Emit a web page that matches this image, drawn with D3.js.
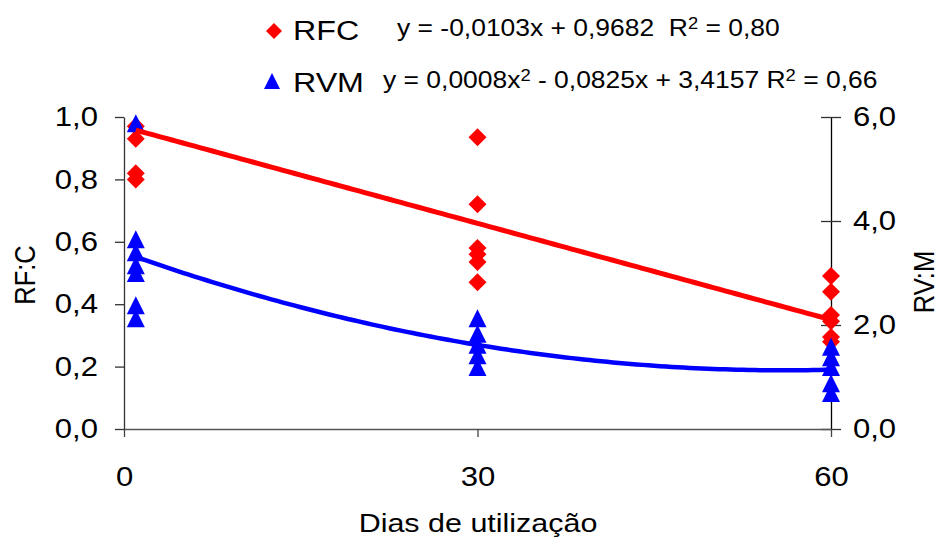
<!DOCTYPE html>
<html>
<head>
<meta charset="utf-8">
<script src="https://cdn.jsdelivr.net/npm/d3@7"></script>
<style>
body { margin: 0; background: #fff; }
svg { display: block; font-family: 'Liberation Sans', Arial, sans-serif; }
</style>
</head>
<body>
<div id="chart"></div>
<script>
// eixo x
var diasTicks = [0, 30, 60]
var rfTicks = [0, 0.2, 0.4, 0.6, 0.8, 1.0]
var rvTicks = [0, 2, 4, 6]

// RF:C (eixo esquerdo)
var rfcDias = [1, 1, 1, 1, 30, 30, 30, 30, 30, 30, 60, 60, 60, 60, 60, 60]
var rfcValores = [0.97, 0.93, 0.82, 0.80, 0.935, 0.72, 0.58, 0.56, 0.535, 0.47, 0.49, 0.44, 0.365, 0.345, 0.295, 0.28]

// RV:M (eixo direito)
var rvmDias = [1, 1, 1, 1, 1, 1, 1, 30, 30, 30, 30, 30, 60, 60, 60, 60, 60]
var rvmValores = [5.88, 3.65, 3.40, 3.15, 3.0, 2.38, 2.13, 2.13, 1.83, 1.62, 1.42, 1.19, 1.58, 1.38, 1.19, 0.88, 0.69]

var rfcTendencia = [0.9682, -0.0103]
var rvmTendencia = [3.39, -0.0807, 0.00072]

var width = 940,
    height = 541,
    sx = 1.15   // o grafico original esta esticado na horizontal

var x = d3.scaleLinear().domain([0, 60]).range([124, 831]),
    yL = d3.scaleLinear().domain([0, 1]).range([429, 117]),
    yR = d3.scaleLinear().domain([0, 6]).range([429, 117])

var br = d3.formatLocale({decimal: ',', thousands: '.', grouping: [3], currency: ['', '']}),
    fmt = br.format('.1f')

var svg = d3.select('#chart').append('svg')
    .attr('width', width)
    .attr('height', height)

// marcadores
var diamond = 'M0,-9L9,0L0,9L-9,0Z',
    triangle = 'M0,-9L9,9L-9,9Z'

function texto(parent, px, py, txt, size, anchor, rot) {
    return parent.append('text')
        .attr('transform', 'translate(' + px + ',' + py + ') scale(' + sx + ',1)' + (rot ? ' rotate(' + rot + ')' : ''))
        .attr('text-anchor', anchor || 'start')
        .attr('font-size', size)
        .attr('fill', '#000')
        .style('white-space', 'pre')
        .text(txt)
}

// eixo esquerdo
var gL = svg.append('g')
    .attr('transform', 'translate(124,0)')
    .call(d3.axisLeft(yL).tickValues(rfTicks).tickFormat(fmt).tickSize(9).tickSizeOuter(0))
gL.select('.domain').attr('stroke', '#333').attr('stroke-width', 1.3)
gL.selectAll('.tick line').attr('stroke', '#333').attr('stroke-width', 1.3)
gL.selectAll('.tick text')
    .attr('font-size', 27)
    .attr('font-family', null)
    .attr('fill', '#000')
    .attr('x', -26 / sx)
    .attr('transform', 'scale(' + sx + ',1)')

// eixo direito
var gR = svg.append('g')
    .attr('transform', 'translate(831,0)')
    .call(d3.axisRight(yR).tickValues(rvTicks).tickFormat(fmt).tickSize(10).tickSizeOuter(0))
gR.select('.domain').attr('stroke', '#000').attr('stroke-width', 1.3)
gR.selectAll('.tick line').attr('x1', -10).attr('stroke', '#333').attr('stroke-width', 1.3)
gR.selectAll('.tick text')
    .attr('font-size', 27)
    .attr('font-family', null)
    .attr('fill', '#000')
    .attr('x', 22 / sx)
    .attr('transform', 'scale(' + sx + ',1)')

// eixo x
var gB = svg.append('g')
    .attr('transform', 'translate(0,429)')
    .call(d3.axisBottom(x).tickValues(diasTicks).tickFormat(d3.format('d')).tickSize(8).tickSizeOuter(0))
gB.select('.domain').attr('stroke', '#555').attr('stroke-width', 1.5)
gB.selectAll('.tick line').attr('stroke', '#444').attr('stroke-width', 1.3)
gB.selectAll('.tick text')
    .attr('font-size', 27)
    .attr('font-family', null)
    .attr('fill', '#000')
    .attr('y', 38)
    .attr('x', 0)
    .attr('transform', 'scale(' + sx + ',1)')

// titulos dos eixos
texto(svg, 478, 532, 'Dias de utilização', 26.5, 'middle')
texto(svg, 35, 275, 'RF:C', 25.5, 'middle', -90)
texto(svg, 934, 282, 'RV:M', 25.5, 'middle', -90)

// pontos RFC
svg.append('g').selectAll('path')
    .data(rfcValores)
    .enter().append('path')
    .attr('d', diamond)
    .attr('transform', function(d, i) { return 'translate(' + x(rfcDias[i]) + ',' + yL(d) + ')' })
    .attr('fill', '#ff0000')

// pontos RVM
svg.append('g').selectAll('path')
    .data(rvmValores)
    .enter().append('path')
    .attr('d', triangle)
    .attr('transform', function(d, i) { return 'translate(' + x(rvmDias[i]) + ',' + yR(d) + ')' })
    .attr('fill', '#0000ff')

// tendencias
var xs = d3.range(1, 60.01, 0.5)

function poli(c, v) {
    return c.reduce(function(s, k, i) { return s + k * Math.pow(v, i) }, 0)
}

svg.append('path')
    .datum(xs)
    .attr('d', d3.line().x(function(d) { return x(d) }).y(function(d) { return yL(poli(rfcTendencia, d)) }))
    .attr('fill', 'none')
    .attr('stroke', '#ff0000')
    .attr('stroke-width', 5)

svg.append('path')
    .datum(xs)
    .attr('d', d3.line().x(function(d) { return x(d) }).y(function(d) { return yR(poli(rvmTendencia, d)) }))
    .attr('fill', 'none')
    .attr('stroke', '#0000ff')
    .attr('stroke-width', 4.5)

// legenda
svg.append('path').attr('d', 'M0,-8L8,0L0,8L-8,0Z').attr('transform', 'translate(274,31)').attr('fill', '#ff0000')
svg.append('path').attr('d', 'M0,-8L8,8L-8,8Z').attr('transform', 'translate(272,81)').attr('fill', '#0000ff')
texto(svg, 293, 40, 'RFC', 28)
texto(svg, 293, 92, 'RVM', 28)

var eq1 = texto(svg, 397, 36, '', 23)
eq1.append('tspan').text('y = -0,0103x + 0,9682  R')
eq1.append('tspan').attr('baseline-shift', '50%').attr('font-size', 16).text('2')
eq1.append('tspan').text(' = 0,80')

var eq2 = texto(svg, 383, 88, '', 23)
eq2.append('tspan').text('y = 0,0008x')
eq2.append('tspan').attr('baseline-shift', '50%').attr('font-size', 16).text('2')
eq2.append('tspan').text(' - 0,0825x + 3,4157 R')
eq2.append('tspan').attr('baseline-shift', '50%').attr('font-size', 16).text('2')
eq2.append('tspan').text(' = 0,66')
</script>
</body>
</html>
